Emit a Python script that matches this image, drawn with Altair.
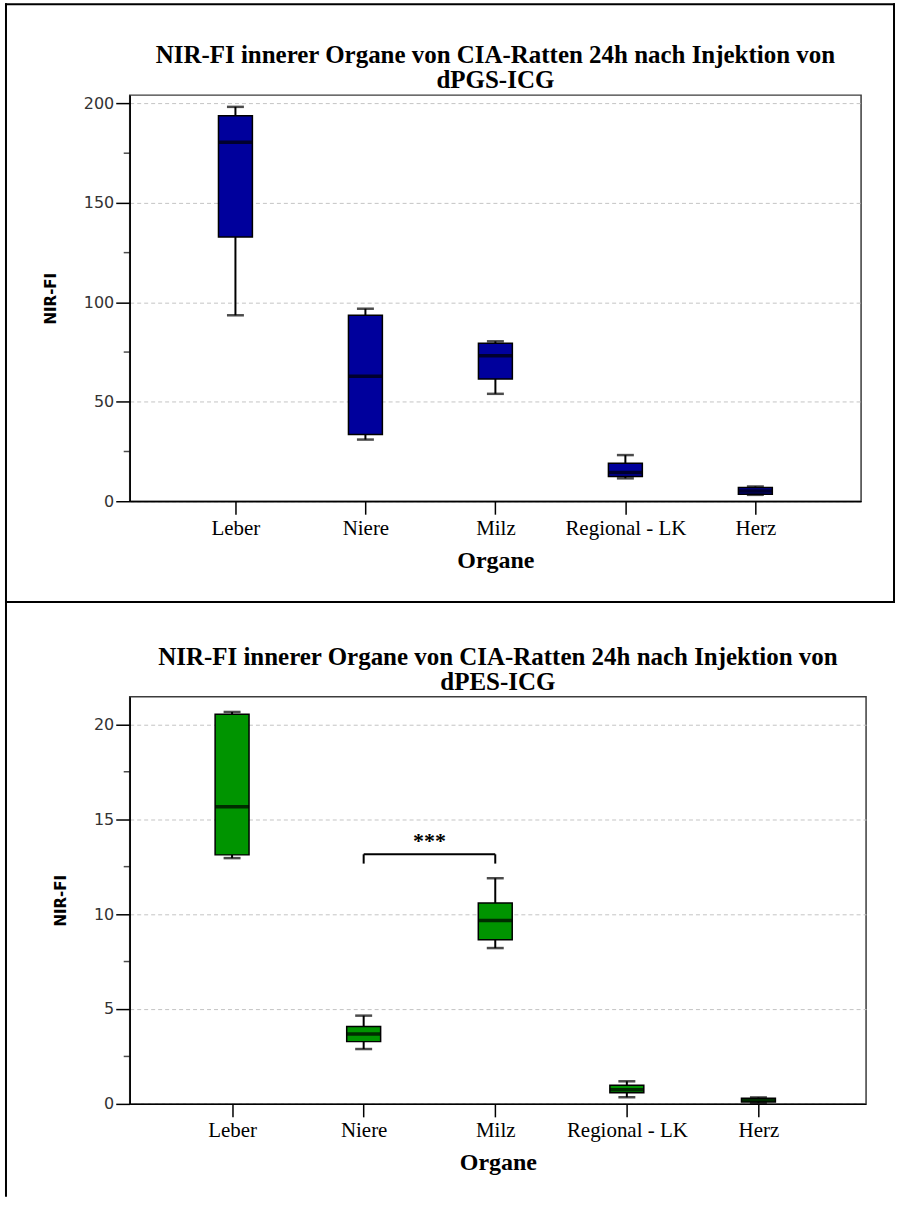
import json

import altair as alt
import pandas as pd

# ---- categories -----------------------------------------------------------
organe = ["Leber", "Niere", "Milz", "Regional - LK", "Herz"]

# ---- dPGS-ICG: box statistics of NIR-FI per organ -------------------------
dpgs_max = [198.3, 96.8, 80.4, 23.2, 7.4]
dpgs_q3 = [193.8, 93.5, 79.4, 19.1, 6.9]
dpgs_median = [180.5, 62.9, 73.1, 14.5, 5.2]
dpgs_q1 = [132.8, 33.5, 61.4, 12.4, 3.5]
dpgs_min = [93.5, 31.0, 54.0, 11.5, 3.2]

# ---- dPES-ICG: box statistics of NIR-FI per organ -------------------------
dpes_max = [20.65, 4.65, 11.89, 1.19, 0.34]
dpes_q3 = [20.53, 4.08, 10.58, 0.98, 0.30]
dpes_median = [15.65, 3.68, 9.66, 0.75, 0.20]
dpes_q1 = [13.12, 3.28, 8.65, 0.58, 0.10]
dpes_min = [12.95, 2.89, 8.21, 0.35, 0.06]

# ---- axis ticks -------------------------------------------------------------
dpgs_ticks = [0, 50, 100, 150, 200]
dpgs_minor = [25, 75, 125, 175]
dpgs_top = 204.2
dpes_ticks = [0, 5, 10, 15, 20]
dpes_minor = [2.5, 7.5, 12.5, 17.5]
dpes_top = 21.45

# ---- significance bracket (dPES-ICG) ---------------------------------------
sig_von, sig_bis = "Niere", "Milz"
sig_hoehe = 13.15
sig_fuss = 12.66
sig_label = "***"
sig_label_y = 13.85

titel = "NIR-FI innerer Organe von CIA-Ratten 24h nach Injektion von"

SERIF = "Liberation Serif"
SANS = "DejaVu Sans"
LABEL_EXPR = json.dumps(organe) + "[datum.value]"


def stats_frame(mx, q3, med, q1, mn):
    return pd.DataFrame({
        "organ": organe,
        "pos": list(range(len(organe))),
        "max": mx, "q3": q3, "median": med, "q1": q1, "min": mn,
    })


def rule(enc):
    return alt.Chart(pd.DataFrame({"k": [0]})).mark_rule(
        color="black", strokeWidth=2, strokeCap="square"
    ).encode(**{k: alt.value(v) for k, v in enc.items()})


def panel(df, subtitle, ticks, minor, top, x_domain, fill, width, height, borders, bracket=False):
    xs = alt.Scale(domain=x_domain, nice=False, zero=False)
    ys = alt.Scale(domain=[0, top], nice=False, zero=False)

    x_axis = alt.Axis(
        values=list(range(len(organe))), labelExpr=LABEL_EXPR,
        title="Organe", grid=False, labelOverlap=False, labelFlush=False,
        tickSize=13, tickColor="black", tickWidth=1.5,
        domainColor="black", domainWidth=1.5,
        labelFont=SERIF, labelFontSize=21, labelColor="black", labelPadding=3,
        titleFont=SERIF, titleFontSize=24, titleFontWeight="bold",
        titleColor="black", titlePadding=10,
    )
    y_axis = alt.Axis(
        values=ticks, title="NIR-FI",
        tickSize=14, tickColor="black", tickWidth=1.5,
        domainColor="black", domainWidth=1.5,
        labelFont=SANS, labelFontSize=16, labelColor="#333333", labelPadding=2,
        titleFont=SANS, titleFontSize=15, titleFontWeight="bold",
        titleColor="black", titlePadding=25,
        grid=True, gridColor="#c4c4c4", gridDash=[4, 3], gridWidth=1,
    )

    base = alt.Chart(df)
    whisker = base.mark_rule(color="black", strokeWidth=2).encode(
        x=alt.X("pos:Q", scale=xs, axis=x_axis),
        y=alt.Y("min:Q", scale=ys, axis=y_axis), y2="max:Q",
    )
    box = base.mark_bar(size=34, color=fill, stroke="black", strokeWidth=1.5).encode(
        x=alt.X("pos:Q", scale=xs), y=alt.Y("q1:Q", scale=ys), y2="q3:Q"
    )
    median = base.mark_tick(orient="horizontal", color="black", size=34, thickness=3.5).encode(
        x=alt.X("pos:Q", scale=xs), y=alt.Y("median:Q", scale=ys)
    )
    caps = base.transform_fold(["min", "max"], as_=["stat", "value"]).mark_tick(
        orient="horizontal", color="black", size=17, thickness=2.5
    ).encode(x=alt.X("pos:Q", scale=xs), y=alt.Y("value:Q", scale=ys))

    # short intermediate ticks on the value axis
    minor_ticks = alt.Chart(pd.DataFrame({"v": minor})).mark_tick(
        orient="horizontal", color="black", size=6, thickness=1.5
    ).encode(x=alt.value(-3), y=alt.Y("v:Q", scale=ys))

    heading = alt.Chart(pd.DataFrame({"k": [0]})).mark_text(
        text=[titel, subtitle], font=SERIF, fontSize=25, fontWeight="bold",
        color="black", lineHeight=25, align="center", baseline="alphabetic",
    ).encode(x=alt.value(width / 2), y=alt.value(-32))

    layers = [whisker, box, median, caps, minor_ticks, heading] + [rule(b) for b in borders]

    if bracket:
        sig = pd.DataFrame({
            "x": [organe.index(sig_von)], "x2": [organe.index(sig_bis)],
            "y": [sig_hoehe], "y2": [sig_fuss], "ty": [sig_label_y], "label": [sig_label],
        })
        sb = alt.Chart(sig)
        bar_h = sb.mark_rule(color="black", strokeWidth=2).encode(
            x=alt.X("x:Q", scale=xs), x2="x2:Q", y=alt.Y("y:Q", scale=ys)
        )
        legs = sb.transform_fold(["x", "x2"], as_=["end", "xe"]).mark_rule(
            color="black", strokeWidth=2
        ).encode(x=alt.X("xe:Q", scale=xs), y=alt.Y("y:Q", scale=ys), y2="y2:Q")
        stars = sb.transform_calculate(xm="(datum.x + datum.x2) / 2").mark_text(
            font=SERIF, fontSize=22, fontWeight="bold", color="black", baseline="middle"
        ).encode(x=alt.X("xm:Q", scale=xs), y=alt.Y("ty:Q", scale=ys), text="label:N")
        layers += [bar_h, legs, stars]

    return alt.layer(*layers).properties(width=width, height=height)


oben = panel(
    stats_frame(dpgs_max, dpgs_q3, dpgs_median, dpgs_q1, dpgs_min),
    "dPGS-ICG", dpgs_ticks, dpgs_minor, dpgs_top, [-0.775, 4.775], "#00009c", 733, 407,
    borders=[
        {"x": -124, "x2": 766, "y": -91},
        {"x": -124, "y": -91, "y2": 508},
        {"x": 766, "y": -91, "y2": 508},
        {"x": -124, "x2": 766, "y": 508},
    ],
)

unten = panel(
    stats_frame(dpes_max, dpes_q3, dpes_median, dpes_q1, dpes_min),
    "dPES-ICG", dpes_ticks, dpes_minor, dpes_top, [-0.74, 4.78], "#009400", 738, 408,
    borders=[{"x": -124, "y": -93, "y2": 500}],
    bracket=True,
)

chart = alt.concat(oben, unten, columns=1, align="none", spacing=-4).properties(
    padding={"left": 3, "top": 0, "right": 0, "bottom": 0}
).configure(background="white").configure_view(stroke="#3c3c3c", strokeWidth=1.5)

chart.save("out.html", embed_options={"renderer": "svg", "actions": False})
